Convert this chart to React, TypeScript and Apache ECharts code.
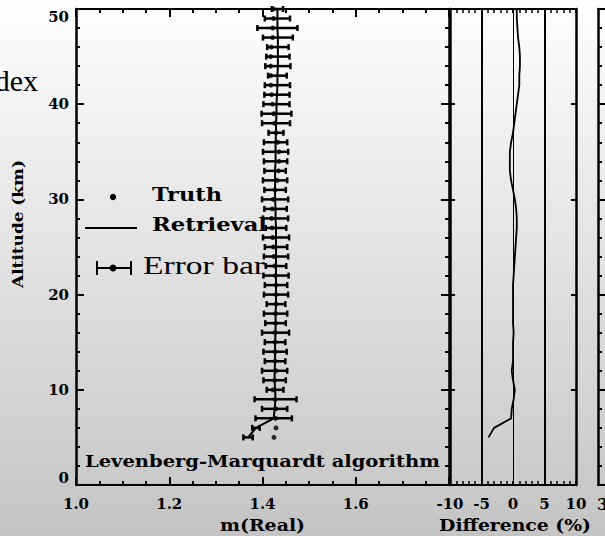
import React, { useEffect, useRef } from "react";
import * as echarts from "echarts";

// Altitude levels (km)
const altitudes = [5, 6, 7, 8, 9, 10, 11, 12, 13, 14, 15, 16, 17, 18, 19, 20, 21, 22, 23, 24, 25, 26, 27, 28, 29, 30, 31, 32, 33, 34, 35, 36, 37, 38, 39, 40, 41, 42, 43, 44, 45, 46, 47, 48, 49, 50];
// Truth m(Real)
const truth = [1.4246, 1.4289, 1.4283, 1.4289, 1.4266, 1.4227, 1.426, 1.4289, 1.427, 1.427, 1.427, 1.4266, 1.428, 1.428, 1.429, 1.429, 1.429, 1.4276, 1.4261, 1.4247, 1.4233, 1.4219, 1.4205, 1.4195, 1.4209, 1.4227, 1.427, 1.4313, 1.4342, 1.4352, 1.4352, 1.4323, 1.429, 1.4261, 1.4243, 1.4215, 1.4196, 1.4178, 1.4178, 1.4174, 1.4174, 1.4188, 1.4216, 1.422, 1.4235, 1.4235];
// Retrieved m(Real)
const retrieval = [1.369, 1.386, 1.424, 1.426, 1.428, 1.427, 1.426, 1.426, 1.427, 1.427, 1.427, 1.428, 1.428, 1.428, 1.429, 1.429, 1.429, 1.429, 1.429, 1.429, 1.429, 1.429, 1.429, 1.428, 1.428, 1.427, 1.427, 1.427, 1.427, 1.428, 1.428, 1.428, 1.429, 1.429, 1.43, 1.43, 1.431, 1.432, 1.432, 1.433, 1.433, 1.433, 1.433, 1.432, 1.432, 1.432];
// Error bar half-widths
const errors = [0.01, 0.008, 0.039, 0.027, 0.045, 0.018, 0.024, 0.027, 0.022, 0.025, 0.022, 0.029, 0.022, 0.025, 0.02, 0.026, 0.024, 0.027, 0.022, 0.026, 0.024, 0.028, 0.022, 0.027, 0.024, 0.028, 0.023, 0.026, 0.023, 0.025, 0.027, 0.025, 0.016, 0.03, 0.032, 0.028, 0.027, 0.027, 0.02, 0.027, 0.025, 0.023, 0.032, 0.043, 0.027, 0.012];
// Difference (%)
const differences = [-3.9, -3.0, -0.3, -0.2, 0.1, 0.3, 0.0, -0.2, 0.0, 0.0, 0.0, 0.1, 0.0, 0.0, 0.0, 0.0, 0.0, 0.1, 0.2, 0.3, 0.4, 0.5, 0.6, 0.6, 0.5, 0.3, 0.0, -0.3, -0.5, -0.5, -0.5, -0.3, 0.0, 0.2, 0.4, 0.6, 0.8, 1.0, 1.0, 1.1, 1.1, 1.0, 0.8, 0.7, 0.6, 0.6];
const diffGuides = [-5, 0, 5];

const SLAB = '"DejaVu Serif"';
const LEG_FONT = `bold 18px ${SLAB}`;
const LAB_FONT = `bold 16px ${SLAB}`;

function fitScale(text: string, font: string, target: number) {
  const ctx = document.createElement("canvas").getContext("2d");
  if (!ctx) return 1;
  ctx.font = font;
  const w = ctx.measureText(text).width;
  return w > 0 ? target / w : 1;
}

function fittedText(text: string, font: string, x: number, y: number, width: number, align: string, extra: any = {}) {
  return {
    type: "text",
    x,
    y,
    scaleX: fitScale(text, font, width),
    ...extra,
    style: { text, font, fill: "#000", align, verticalAlign: "middle" },
  };
}

export default function App() {
  const ref = useRef<HTMLDivElement>(null);
  useEffect(() => {
    document.body.style.margin = "0";
    if (!ref.current) return;
    const chart = echarts.init(ref.current, undefined, { renderer: "svg" });
    const tickLabel = { color: "#000", fontFamily: SLAB, fontWeight: "bold", fontSize: 15 };
    const line2 = { lineStyle: { color: "#000", width: 2 } };
    const errData = altitudes.map((h, i) => [retrieval[i], h, errors[i]]);

    const option: any = {
      animation: false,
      backgroundColor: "transparent",
      grid: [
        { left: 76, right: 156, top: 9, bottom: 51 },
        { left: 450, right: 29, top: 9, bottom: 51 },
        { left: 598, right: -100, top: 9, bottom: 51 },
      ],
      xAxis: [
        {
          gridIndex: 0, type: "value", position: "bottom", min: 1.0, max: 1.8, interval: 0.2,
          axisLine: { show: true, onZero: false, ...line2 },
          axisTick: { show: true, inside: true, length: 8, ...line2 },
          minorTick: { show: true, splitNumber: 4, length: 4, lineStyle: { color: "#000", width: 2 } },
          splitLine: { show: false },
          axisLabel: { ...tickLabel, margin: 11, showMinLabel: true, showMaxLabel: false, formatter: (v: number) => v.toFixed(1) },
        },
        {
          gridIndex: 0, type: "value", position: "top", min: 1.0, max: 1.8, interval: 0.2,
          axisLine: { show: true, onZero: false, ...line2 },
          axisTick: { show: true, inside: true, length: 8, ...line2 },
          minorTick: { show: true, splitNumber: 4, length: 4, lineStyle: { color: "#000", width: 2 } },
          splitLine: { show: false },
          axisLabel: { show: false },
        },
        {
          gridIndex: 1, type: "value", position: "bottom", min: -10, max: 10, interval: 5,
          axisLine: { show: true, onZero: false, ...line2 },
          axisTick: { show: true, inside: true, length: 4, ...line2 },
          minorTick: { show: true, splitNumber: 5, length: 4, lineStyle: { color: "#000", width: 1.5 } },
          splitLine: { show: false },
          axisLabel: { ...tickLabel, margin: 11, showMinLabel: true, showMaxLabel: true },
        },
        {
          gridIndex: 1, type: "value", position: "top", min: -10, max: 10, interval: 5,
          axisLine: { show: true, onZero: false, ...line2 },
          axisTick: { show: true, inside: true, length: 4, ...line2 },
          minorTick: { show: true, splitNumber: 5, length: 4, lineStyle: { color: "#000", width: 1.5 } },
          splitLine: { show: false },
          axisLabel: { show: false },
        },
        {
          gridIndex: 2, type: "value", position: "bottom", min: 0, max: 1,
          axisLine: { show: true, onZero: false, ...line2 },
          axisTick: { show: false }, splitLine: { show: false }, axisLabel: { show: false },
        },
        {
          gridIndex: 2, type: "value", position: "top", min: 0, max: 1,
          axisLine: { show: true, onZero: false, ...line2 },
          axisTick: { show: false }, splitLine: { show: false }, axisLabel: { show: false },
        },
      ],
      yAxis: [
        {
          gridIndex: 0, type: "value", position: "left", min: 0, max: 50, interval: 10,
          axisLine: { show: true, onZero: false, lineStyle: { color: "#000", width: 2.5 } },
          axisTick: { show: true, inside: true, length: 8, ...line2 },
          minorTick: { show: true, splitNumber: 5, length: 4, lineStyle: { color: "#000", width: 2 } },
          splitLine: { show: false },
          axisLabel: { ...tickLabel, margin: 7, showMinLabel: true, showMaxLabel: true, verticalAlignMinLabel: "bottom", verticalAlignMaxLabel: "top" },
        },
        {
          gridIndex: 0, type: "value", position: "right", min: 0, max: 50, interval: 10,
          axisLine: { show: true, onZero: false, lineStyle: { color: "#000", width: 2.5 } },
          axisTick: { show: true, inside: true, length: 8, ...line2 },
          minorTick: { show: true, splitNumber: 5, length: 4, lineStyle: { color: "#000", width: 2 } },
          splitLine: { show: false },
          axisLabel: { show: false },
        },
        {
          gridIndex: 1, type: "value", position: "left", min: 0, max: 50, interval: 10,
          axisLine: { show: true, onZero: false, lineStyle: { color: "#000", width: 2.5 } },
          axisTick: { show: true, inside: true, length: 5, ...line2 },
          splitLine: { show: false }, axisLabel: { show: false },
        },
        {
          gridIndex: 1, type: "value", position: "right", min: 0, max: 50, interval: 10,
          axisLine: { show: true, onZero: false, lineStyle: { color: "#000", width: 2.5 } },
          axisTick: { show: true, inside: true, length: 5, ...line2 },
          splitLine: { show: false }, axisLabel: { show: false },
        },
        {
          gridIndex: 2, type: "value", position: "left", min: 0, max: 50, interval: 10,
          axisLine: { show: true, onZero: false, lineStyle: { color: "#000", width: 2.5 } },
          axisTick: { show: true, inside: true, length: 8, ...line2 },
          minorTick: { show: true, splitNumber: 5, length: 4, lineStyle: { color: "#000", width: 2 } },
          splitLine: { show: false }, axisLabel: { show: false },
        },
      ],
      series: [
        {
          name: "Error bar",
          type: "custom",
          xAxisIndex: 0,
          yAxisIndex: 0,
          data: errData,
          encode: { x: 0, y: 1 },
          renderItem: (params: any, api: any) => {
            const c = api.value(0);
            const h = api.value(1);
            const e = api.value(2);
            const p1 = api.coord([c - e, h]);
            const p2 = api.coord([c + e, h]);
            const cap = 3;
            const st = { stroke: "#000", lineWidth: 2.5 };
            return {
              type: "group",
              children: [
                { type: "line", shape: { x1: p1[0], y1: p1[1], x2: p2[0], y2: p2[1] }, style: st },
                { type: "line", shape: { x1: p1[0], y1: p1[1] - cap, x2: p1[0], y2: p1[1] + cap }, style: st },
                { type: "line", shape: { x1: p2[0], y1: p2[1] - cap, x2: p2[0], y2: p2[1] + cap }, style: st },
              ],
            };
          },
        },
        {
          name: "Retrieval",
          type: "line",
          xAxisIndex: 0,
          yAxisIndex: 0,
          data: altitudes.map((h, i) => [retrieval[i], h]),
          showSymbol: false,
          lineStyle: { color: "#000", width: 2 },
        },
        {
          name: "Truth",
          type: "scatter",
          xAxisIndex: 0,
          yAxisIndex: 0,
          data: altitudes.map((h, i) => [truth[i], h]),
          symbolSize: 5,
          itemStyle: { color: "#000" },
        },
        {
          name: "Difference",
          type: "line",
          xAxisIndex: 2,
          yAxisIndex: 2,
          data: altitudes.map((h, i) => [differences[i], h]),
          showSymbol: false,
          lineStyle: { color: "#000", width: 1.8 },
          markLine: {
            symbol: "none",
            silent: true,
            label: { show: false },
            lineStyle: { color: "#000", type: "solid", width: 2 },
            data: diffGuides.map((v) => ({ xAxis: v, lineStyle: { color: "#000", type: "solid", width: v === 0 ? 1 : 2 } })),
          },
        },
      ],
      graphic: [
        { type: "text", x: 38, y: 80, style: { text: "dex", font: '30px "Liberation Serif"', fill: "#000", align: "right", verticalAlign: "middle" } },
        { type: "circle", shape: { cx: 113, cy: 197, r: 3.2 }, style: { fill: "#000" } },
        fittedText("Truth", LEG_FONT, 152, 195, 70, "left"),
        { type: "line", shape: { x1: 85, y1: 228, x2: 137, y2: 228 }, style: { stroke: "#000", lineWidth: 2 } },
        fittedText("Retrieval", LEG_FONT, 152, 225, 115, "left"),
        { type: "line", shape: { x1: 97, y1: 268, x2: 131, y2: 268 }, style: { stroke: "#000", lineWidth: 2 } },
        { type: "line", shape: { x1: 97, y1: 261, x2: 97, y2: 275 }, style: { stroke: "#000", lineWidth: 2 } },
        { type: "line", shape: { x1: 131, y1: 261, x2: 131, y2: 275 }, style: { stroke: "#000", lineWidth: 2 } },
        { type: "circle", shape: { cx: 113, cy: 268, r: 3.5 }, style: { fill: "#000" } },
        fittedText("Error bar", '26px "Liberation Serif"', 143, 265, 122, "left"),
        fittedText("Levenberg-Marquardt algorithm", LAB_FONT, 85, 461, 355, "left"),
        fittedText("m(Real)", LAB_FONT, 262.5, 526, 85, "center"),
        fittedText("Difference (%)", LAB_FONT, 515, 526, 152, "center"),
        fittedText("Altitude (km)", `bold 15px ${SLAB}`, 17.5, 224, 128, "center", { rotation: Math.PI / 2 }),
        { type: "text", x: 597, y: 504, style: { text: "3", font: LAB_FONT, fill: "#000", align: "left", verticalAlign: "middle" } },
      ],
    };
    chart.setOption(option);
    return () => chart.dispose();
  }, []);

  return (
    <div
      ref={ref}
      style={{
        width: 605,
        height: 536,
        overflow: "hidden",
        background: "linear-gradient(to bottom, #fefefe 0%, #c4c4c4 100%)",
      }}
    />
  );
}
